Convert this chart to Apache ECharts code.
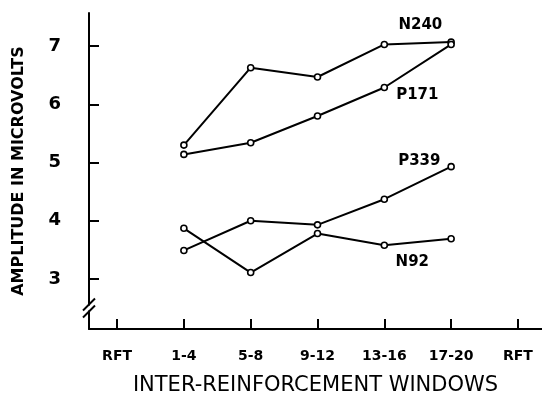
<!DOCTYPE html>
<html><head><meta charset="utf-8">
<script src="https://cdn.jsdelivr.net/npm/echarts@6/dist/echarts.min.js"></script>
<style>html,body{margin:0;padding:0;background:#fff}#c{width:542px;height:397px}</style>
</head><body><div id="c"></div>
<script>
const windows = ['RFT', '1-4', '5-8', '9-12', '13-16', '17-20', 'RFT'];
const yTicks = [3, 4, 5, 6, 7];
const N240 = [5.30, 6.63, 6.47, 7.03, 7.07];
const P171 = [5.14, 5.34, 5.80, 6.29, 7.03];
const P339 = [3.49, 4.00, 3.93, 4.37, 4.93];
const N92  = [3.87, 3.11, 3.78, 3.58, 3.69];
const seriesNames = ['N240', 'P171', 'P339', 'N92'];
const seriesVals = [N240, P171, P339, N92];
const labelOffsets = [[36, -19], [33, 8], [35, -38], [28, 17]];

const FONT = 'DejaVu Sans';
const chart = echarts.init(document.getElementById('c'), null, {renderer: 'canvas'});

const series = seriesVals.map((vals, s) => ({
  name: seriesNames[s],
  type: 'line',
  symbol: 'circle',
  symbolSize: 6,
  itemStyle: {color: '#fff', borderColor: '#000', borderWidth: 1.6},
  lineStyle: {color: '#000', width: 2},
  emphasis: {disabled: true},
  z: 3,
  data: vals.map((v, i) => {
    const d = {value: [i + 1, v]};
    if (i === 3) {
      d.label = {show: true, formatter: seriesNames[s], position: 'inside',
        offset: labelOffsets[s], color: '#000', fontFamily: FONT,
        fontWeight: 'bold', fontSize: 15};
    }
    return d;
  })
}));

chart.setOption({
  animation: false,
  backgroundColor: '#fff',
  grid: {left: 89, right: 0, top: 13, bottom: 68, outerBoundsMode: 'none', containLabel: false},
  xAxis: {
    type: 'value', min: -0.42, max: 6.36,
    name: 'INTER-REINFORCEMENT WINDOWS',
    nameLocation: 'middle', nameGap: 46,
    nameTextStyle: {fontFamily: FONT, fontSize: 21, color: '#000'},
    axisLine: {onZero: false, lineStyle: {color: '#000', width: 2}},
    axisTick: {inside: true, length: 10, lineStyle: {color: '#000', width: 2},
      customValues: windows.map((w, i) => i)},
    axisLabel: {customValues: windows.map((w, i) => i), margin: 20,
      formatter: v => windows[Math.round(v)],
      fontFamily: FONT, fontWeight: 'bold', fontSize: 14, color: '#000'},
    splitLine: {show: false}
  },
  yAxis: {
    type: 'value', min: 2.14, max: 7.57,
    name: 'AMPLITUDE IN MICROVOLTS',
    nameLocation: 'middle', nameGap: 62,
    nameTextStyle: {fontFamily: FONT, fontSize: 16, fontWeight: 'bold', color: '#000'},
    axisLine: {onZero: false, lineStyle: {color: '#000', width: 2}},
    axisTick: {inside: true, length: 10, lineStyle: {color: '#000', width: 2},
      customValues: yTicks},
    axisLabel: {customValues: yTicks, margin: 28,
      fontFamily: FONT, fontWeight: 'bold', fontSize: 18, color: '#000'},
    splitLine: {show: false}
  },
  series: series
});

// axis break marks
const p1 = chart.convertToPixel({gridIndex: 0}, [-0.42, 2.56]);
const p2 = chart.convertToPixel({gridIndex: 0}, [-0.42, 2.44]);
chart.setOption({
  graphic: [p1, p2].map(p => ({
    type: 'line', z: 10,
    shape: {x1: p[0] - 6, y1: p[1] + 6, x2: p[0] + 6, y2: p[1] - 6},
    style: {stroke: '#000', lineWidth: 2}
  })).concat([{
    type: 'rect', z: 9,
    shape: {x: p1[0] - 2, y: p1[1] + 1, width: 4, height: p2[1] - p1[1] - 2},
    style: {fill: '#fff'}
  }])
});
</script></body></html>
